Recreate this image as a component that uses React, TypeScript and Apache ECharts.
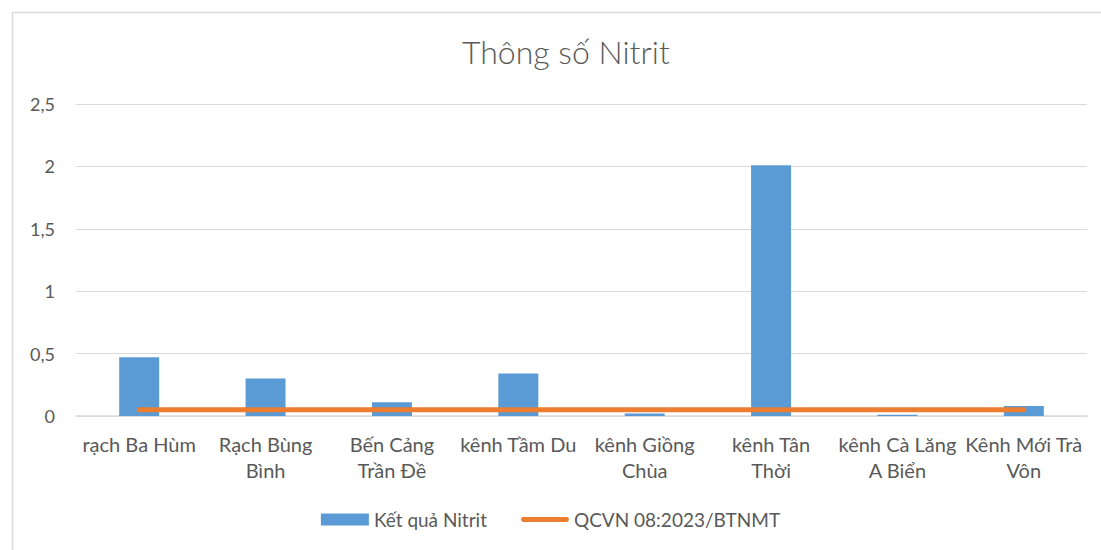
import React, { useEffect, useRef } from "react";
import * as echarts from "echarts";

const categories = [
  "rạch Ba Hùm",
  "Rạch Bùng\nBình",
  "Bến Cảng\nTrần Đề",
  "kênh Tầm Du",
  "kênh Giồng\nChùa",
  "kênh Tân\nThời",
  "kênh Cà Lăng\nA Biển",
  "Kênh Mới Trà\nVôn",
];
const ketQua = [0.47, 0.3, 0.11, 0.34, 0.02, 2.01, 0.01, 0.08];
const qcvn = [0.05, 0.05, 0.05, 0.05, 0.05, 0.05, 0.05, 0.05];
const yTicks = { min: 0, max: 2.5, interval: 0.5 };

const FONT = "Lato";
const TXT = "#595959";

export default function App() {
  const ref = useRef<HTMLDivElement>(null);
  useEffect(() => {
    document.body.style.margin = "0";
    const chart = echarts.init(ref.current!, null, { renderer: "svg" });
    chart.setOption({
      animation: false,
      backgroundColor: "#ffffff",
      textStyle: { fontFamily: FONT },
      title: {
        text: "Thông số Nitrit",
        left: 457,
        top: 30,
        textStyle: { fontFamily: FONT, fontSize: 32, fontWeight: 300, color: TXT },
      },
      graphic: [
        {
          type: "rect",
          shape: { x: 12.5, y: 12.5, width: 1100, height: 560 },
          style: { fill: "none", stroke: "#d9d9d9", lineWidth: 1.5 },
          silent: true,
        },
      ],
      grid: { left: 76, right: 14, top: 104, bottom: 134 },
      legend: {
        bottom: 16,
        left: "center",
        itemGap: 34,
        itemWidth: 48,
        itemHeight: 12,
        textStyle: { fontFamily: FONT, fontSize: 19, color: TXT },
        data: [
          { name: "Kết quả Nitrit", icon: "rect" },
          { name: "QCVN 08:2023/BTNMT", icon: "path://M2.5,0 L47.5,0 A2.5,2.5 0 0 1 47.5,5 L2.5,5 A2.5,2.5 0 0 1 2.5,0 Z" },
        ],
      },
      xAxis: {
        type: "category",
        data: categories,
        axisLine: { lineStyle: { color: "#d9d9d9", width: 1.5 } },
        axisTick: { show: false },
        axisLabel: {
          interval: 0,
          fontFamily: FONT,
          fontSize: 20,
          color: TXT,
          lineHeight: 26,
          margin: 15,
        },
      },
      yAxis: {
        type: "value",
        min: yTicks.min,
        max: yTicks.max,
        interval: yTicks.interval,
        axisLine: { show: false },
        axisTick: { show: false },
        splitLine: { lineStyle: { color: "#d9d9d9", width: 1 } },
        axisLabel: {
          fontFamily: FONT,
          fontSize: 18,
          color: TXT,
          margin: 21,
          formatter: (v: number) => String(v).replace(".", ","),
        },
      },
      series: [
        {
          name: "Kết quả Nitrit",
          type: "bar",
          data: ketQua,
          barWidth: 40,
          itemStyle: { color: "#5B9BD5" },
        },
        {
          name: "QCVN 08:2023/BTNMT",
          type: "line",
          data: qcvn,
          symbol: "none",
          lineStyle: { color: "#ED7D31", width: 5, cap: "round" },
          itemStyle: { color: "#ED7D31" },
          z: 5,
        },
      ],
    });
    return () => chart.dispose();
  }, []);
  return <div ref={ref} style={{ width: 1101, height: 550 }} />;
}
